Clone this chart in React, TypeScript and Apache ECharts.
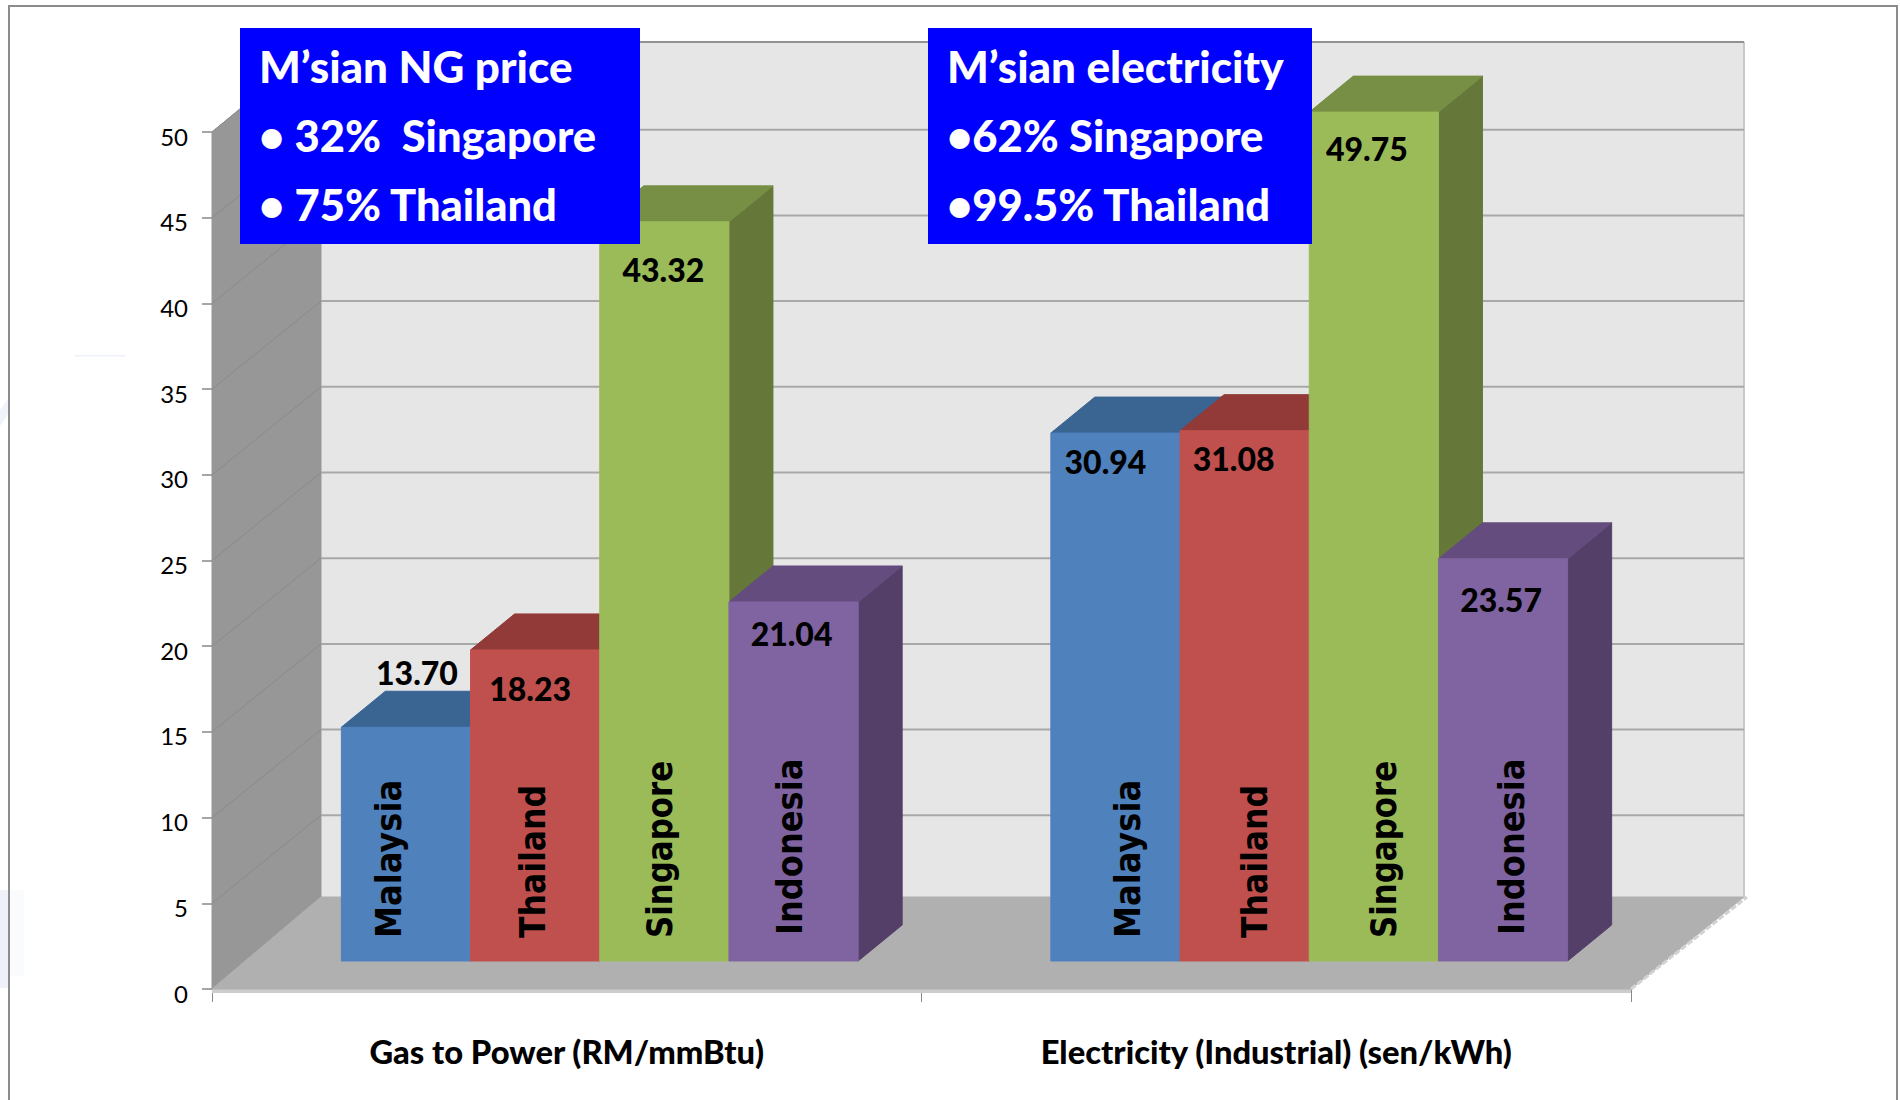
import React, { useEffect, useRef } from "react";
import * as echarts from "echarts";

const categories = ["Gas to Power (RM/mmBtu)", "Electricity (Industrial) (sen/kWh)"];
const countries = ["Malaysia", "Thailand", "Singapore", "Indonesia"];
const gasValues = [13.7, 18.23, 43.32, 21.04];
const electricityValues = [30.94, 31.08, 49.75, 23.57];
const gasLabels = ["13.70", "18.23", "43.32", "21.04"];
const electricityLabels = ["30.94", "31.08", "49.75", "23.57"];
const yTicks = [0, 5, 10, 15, 20, 25, 30, 35, 40, 45, 50];
const ngBoxLines = ["M’sian NG price", "• 32%  Singapore", "• 75% Thailand"];
const electricityBoxLines = ["M’sian electricity", "•62% Singapore", "•99.5% Thailand"];

const FRONT = ["#4f81bd", "#c0504d", "#9bbb59", "#8064a2"];
const TOP = ["#3a6491", "#913a38", "#778f45", "#644c7e"];
const SIDE = ["#36597f", "#7f3331", "#65783a", "#533f68"];
const FONT = "Lato, Carlito, sans-serif";

// label nudges [dx from bar centre, dy from bar top], per category and country
const labelNudge = [
  [[11, -55], [-5, 39], [-1, 48], [-2, 32]],
  [[-10, 28], [-11, 28], [-7, 36], [-2, 41]],
];
// rotated country name nudges, per category and country
const nameNudge = [
  [-17, -2, -4, -4],
  [13, 11, 10, 9],
];
const nameStretch = [1.02, 1, 0.98, 1.02];
const nameLift = [23, 23, 23, 26];

const WALL_DX = 109;
const WALL_TOP_DY = -90;
const WALL_DY = -88;
const FLOOR_DY = -92;
const BAR_W = 129.2;
const BAR_DX = 44;
const BAR_DY = -36;
const BAR_PLANE_DY = -28;
const BAR_HEIGHT_FACTOR = 0.9955;
const GROUP_OFFSET = 33;

const barData: number[][] = [];
[gasValues, electricityValues].forEach((vals, c) =>
  vals.forEach((v, i) => barData.push([c, v, i]))
);

function poly(points: number[][], fill: string, stroke?: string) {
  return {
    type: "polygon",
    shape: { points },
    style: { fill, stroke: stroke || fill, lineWidth: 1 },
  };
}

function renderWalls(_: any, api: any) {
  const [x0, y0] = api.coord([0, 0]);
  const [, yTop] = api.coord([0, 50]);
  const left = x0 - api.size([1, 0])[0] / 2;
  const right = left + api.size([1, 0])[0] * 2;
  const bx = left + WALL_DX;
  const rx = right + 113;
  return {
    type: "group",
    children: [
      { type: "rect", shape: { x: left, y: y0, width: right - left, height: 4 }, style: { fill: "#cdcdcd" } },
      poly([[bx, yTop + WALL_TOP_DY], [rx, yTop + WALL_TOP_DY], [rx, y0 + FLOOR_DY], [bx, y0 + FLOOR_DY]], "#e6e6e6"),
      poly([[left, yTop], [bx, yTop + WALL_TOP_DY], [bx, y0 + FLOOR_DY], [left, y0]], "#979797"),
      poly([[left, y0], [bx, y0 + FLOOR_DY], [rx, y0 + FLOOR_DY], [right, y0]], "#b0b0b0"),
      { type: "line", shape: { x1: rx, y1: yTop + WALL_TOP_DY, x2: rx, y2: y0 + FLOOR_DY }, style: { stroke: "#c8c8c8", lineWidth: 2 } },
      { type: "line", shape: { x1: right, y1: y0, x2: rx + 3, y2: y0 + FLOOR_DY }, style: { stroke: "#d2d2d2", lineWidth: 3, lineDash: [6, 2] } },
    ],
  };
}

function renderGridline(_: any, api: any) {
  const v = api.value(0);
  const [x0, y] = api.coord([0, v]);
  if (v === 0) return { type: "group", children: [] };
  const left = x0 - api.size([1, 0])[0] / 2;
  const right = left + api.size([1, 0])[0] * 2;
  const bx = left + WALL_DX;
  const rx = right + 113;
  const dy = v === 50 ? WALL_TOP_DY : WALL_DY;
  return {
    type: "group",
    children: [
      { type: "line", shape: { x1: bx, y1: y + dy, x2: rx, y2: y + dy }, style: { stroke: v === 50 ? "#929292" : "#a8a8a8", lineWidth: 2 } },
      { type: "line", shape: { x1: left, y1: y, x2: bx, y2: y + dy }, style: { stroke: "#8a8a8a", lineWidth: 1 } },
    ],
  };
}

function renderBar(_: any, api: any) {
  const c = api.value(0);
  const v = api.value(1);
  const i = api.value(2);
  const [cx, yRaw] = api.coord([c, v]);
  const [, yBase] = api.coord([c, 0]);
  const base = yBase + BAR_PLANE_DY;
  const top = base - (yBase - yRaw) * BAR_HEIGHT_FACTOR;
  const l = cx + GROUP_OFFSET + (i - 2) * BAR_W;
  const r = l + BAR_W;
  const [nx, ny] = labelNudge[c][i];
  const labelText = c === 0 ? gasLabels[i] : electricityLabels[i];
  return {
    type: "group",
    children: [
      poly([[r, top], [r + BAR_DX, top + BAR_DY], [r + BAR_DX, base + BAR_DY], [r, base]], SIDE[i]),
      poly([[l, top], [l + BAR_DX, top + BAR_DY], [r + BAR_DX, top + BAR_DY], [r, top]], TOP[i]),
      { type: "rect", shape: { x: l, y: top, width: BAR_W, height: base - top }, style: { fill: FRONT[i], stroke: FRONT[i], lineWidth: 1 } },
      {
        type: "text",
        x: l + 64 + nameNudge[c][i],
        y: base - nameLift[i],
        rotation: Math.PI / 2,
        scaleX: nameStretch[i],
        scaleY: 1.14,
        style: {
          text: countries[i],
          fontFamily: "DejaVu Sans",
          fontWeight: "bold",
          fontSize: 31.5,
          fill: "#000",
          align: "left",
          verticalAlign: "middle",
        },
      },
      {
        type: "text",
        x: l + BAR_W / 2 + nx,
        y: top + ny,
        style: {
          text: labelText,
          fontFamily: FONT,
          fontWeight: 900,
          fontSize: 32,
          fill: "#000",
          align: "center",
          verticalAlign: "middle",
        },
      },
    ],
  };
}

function blueBox(x: number, width: number, lines: string[]) {
  return [
    { type: "rect", z: 100, shape: { x, y: 28, width, height: 216 }, style: { fill: "#0000ff" } },
    ...lines.map((t, k) => ({
      type: "text",
      z: 101,
      x: x + 19,
      y: 66 + k * 69,
      style: {
        text: t,
        fontFamily: FONT,
        fontWeight: 900,
        fontSize: k === 0 ? 44 : 43.5,
        fill: "#fff",
        align: "left",
        verticalAlign: "middle",
      },
    })),
  ];
}

export default function App() {
  const ref = useRef<HTMLDivElement>(null);
  useEffect(() => {
    const chart = echarts.init(ref.current!, undefined, { renderer: "svg" });
    chart.setOption({
      animation: false,
      backgroundColor: "#fff",
      grid: { left: 212, width: 1419, top: 132, height: 857 },
      xAxis: {
        type: "category",
        data: categories,
        axisLine: { show: true, lineStyle: { color: "#999", width: 1.5 } },
        axisTick: { show: true, length: 13, lineStyle: { color: "#888", width: 1 } },
        axisLabel: { color: "#000", fontFamily: FONT, fontWeight: 900, fontSize: 32.7, margin: 46 },
      },
      yAxis: {
        type: "value",
        min: 0,
        max: 50,
        interval: 5,
        splitLine: { show: false },
        axisLine: { show: false },
        axisTick: { show: true, length: 10, lineStyle: { color: "#888", width: 1.5 } },
        axisLabel: { color: "#000", fontFamily: FONT, fontSize: 24, margin: 24, verticalAlign: "top", lineHeight: 8 },
      },
      graphic: [
        { type: "polygon", z: 80, shape: { points: [[0, 410], [8, 399], [8, 415], [0, 426]] }, style: { fill: "#f0f3f9" } },
        { type: "rect", z: 80, shape: { x: 0, y: 890, width: 8, height: 98 }, style: { fill: "#eef1f9" } },
        { type: "rect", z: 80, shape: { x: 10, y: 890, width: 14, height: 86 }, style: { fill: "#fafbfd" } },
        { type: "rect", z: 80, shape: { x: 75, y: 355, width: 50, height: 1.5 }, style: { fill: "#eef2fa" } },
        { type: "rect", z: 90, shape: { x: 9, y: 6, width: 1888, height: 1200 }, style: { fill: "none", stroke: "#8c8c8c", lineWidth: 2 } },
        ...blueBox(240, 400, ngBoxLines),
        ...blueBox(928, 384, electricityBoxLines),
      ],
      series: [
        { type: "custom", z: 1, coordinateSystem: "cartesian2d", renderItem: renderWalls, data: [[0]], silent: true, clip: false },
        { type: "custom", z: 2, coordinateSystem: "cartesian2d", renderItem: renderGridline, encode: { y: 0 }, data: yTicks.map((t) => [t]), silent: true, clip: false },
        { type: "custom", z: 3, coordinateSystem: "cartesian2d", renderItem: renderBar, encode: { x: 0, y: 1 }, data: barData, silent: true, clip: false },
      ],
    });
    return () => chart.dispose();
  }, []);
  return <div ref={ref} style={{ position: "fixed", left: 0, top: 0, width: 1900, height: 1100, background: "#fff" }} />;
}
